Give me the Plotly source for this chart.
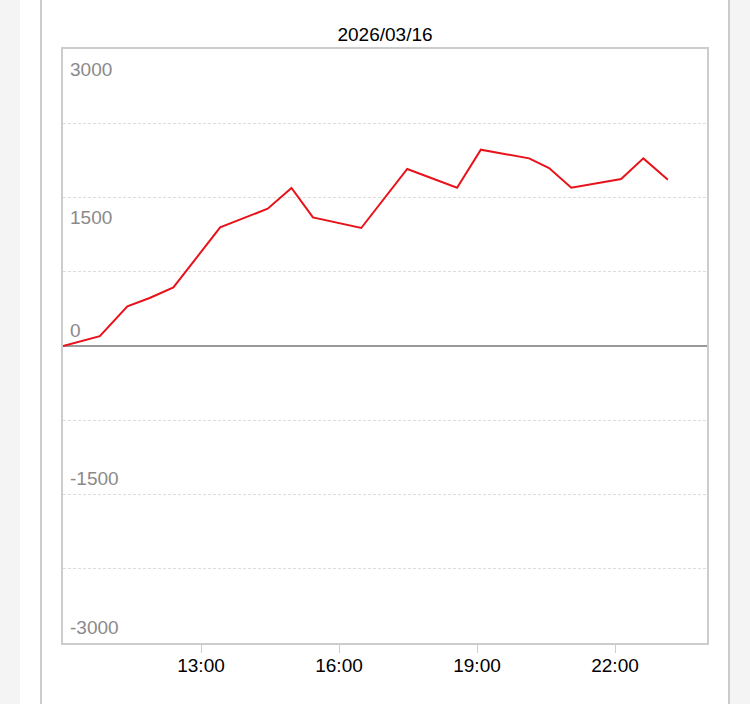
import plotly.graph_objects as go

# ---- data ----
times = [
    "2026-03-16 10:00", "2026-03-16 10:48", "2026-03-16 11:24", "2026-03-16 11:53",
    "2026-03-16 12:24", "2026-03-16 13:25", "2026-03-16 14:27", "2026-03-16 14:58",
    "2026-03-16 15:26", "2026-03-16 16:29", "2026-03-16 17:29", "2026-03-16 18:34",
    "2026-03-16 19:05", "2026-03-16 20:08", "2026-03-16 20:34", "2026-03-16 21:03",
    "2026-03-16 22:08", "2026-03-16 22:37", "2026-03-16 23:09",
]
values = [0, 100, 400, 485, 592, 1198, 1387, 1596, 1299, 1192, 1788, 1599,
          1983, 1895, 1798, 1599, 1687, 1895, 1680]

x_tick_vals = ["2026-03-16 13:00", "2026-03-16 16:00", "2026-03-16 19:00", "2026-03-16 22:00"]
x_tick_text = ["13:00", "16:00", "19:00", "22:00"]
y_label_vals = [3000, 1500, 0, -1500, -3000]
title_text = "2026/03/16"

# ---- layout geometry (pixels) ----
W, H = 750, 704
L, R, T, B = 63, 43, 49, 61
pw, ph = W - L - R, H - T - B


def px_x(p):
    return (p - L) / pw


def px_y(p):
    return (H - B - p) / ph


FONT = "Liberation Sans, Arial, Helvetica, sans-serif"

fig = go.Figure()
fig.add_trace(go.Scatter(
    x=times, y=values, mode="lines",
    line=dict(color="#e8121a", width=2),
    hoverinfo="skip", showlegend=False,
))

annotations = []
for v in y_label_vals:
    annotations.append(dict(
        x=0, xref="paper", y=v, yref="y", text=str(v),
        showarrow=False, xanchor="left", yanchor="middle",
        xshift=5, yshift=(-20 if v > 0 else 16),
        font=dict(family=FONT, size=19, color="#8a8a8a"),
    ))

shapes = [
    dict(type="rect", xref="paper", yref="paper",
         x0=px_x(20), x1=px_x(729), y0=px_y(H + 5), y1=px_y(-5),
         fillcolor="white", line=dict(width=0), layer="below"),
    dict(type="line", xref="paper", yref="paper",
         x0=px_x(41), x1=px_x(41), y0=px_y(H + 5), y1=px_y(-5),
         line=dict(color="#cccccc", width=2), layer="below"),
    dict(type="line", xref="paper", yref="paper",
         x0=px_x(729), x1=px_x(729), y0=px_y(H + 5), y1=px_y(-5),
         line=dict(color="#cccccc", width=2), layer="below"),
]

fig.update_layout(
    width=W, height=H,
    margin=dict(l=L, r=R, t=T, b=B, pad=0),
    paper_bgcolor="#f4f4f4",
    plot_bgcolor="white",
    title=dict(text=title_text, x=px_x(385), xref="paper", xanchor="center",
               y=1 - 34 / H, yref="container", yanchor="middle",
               font=dict(family=FONT, size=19, color="#000000")),
    font=dict(family=FONT, size=19, color="#000000"),
    annotations=annotations,
    shapes=shapes,
    showlegend=False,
)

fig.update_xaxes(
    type="date",
    range=["2026-03-16 10:00", "2026-03-17 00:00"],
    tickmode="array", tickvals=x_tick_vals, ticktext=x_tick_text,
    showgrid=False, zeroline=False,
    ticks="outside", ticklen=8, tickcolor="#cccccc", tickwidth=1,
    ticklabelstandoff=-4,
    tickfont=dict(family=FONT, size=19, color="#000000"),
    showline=True, linecolor="#cccccc", linewidth=2, mirror=True,
)

fig.update_yaxes(
    range=[-3000, 3000],
    tickmode="linear", tick0=0, dtick=750,
    showticklabels=False, ticks="",
    showgrid=True, gridcolor="#dddddd", gridwidth=1, griddash="3px,2px",
    zeroline=True, zerolinecolor="#999999", zerolinewidth=2,
    showline=True, linecolor="#cccccc", linewidth=2, mirror=True,
)

fig.write_html(
    "out.html",
    config={"displayModeBar": False},
    post_script="document.body.style.margin='0';document.body.style.overflow='hidden';",
)
